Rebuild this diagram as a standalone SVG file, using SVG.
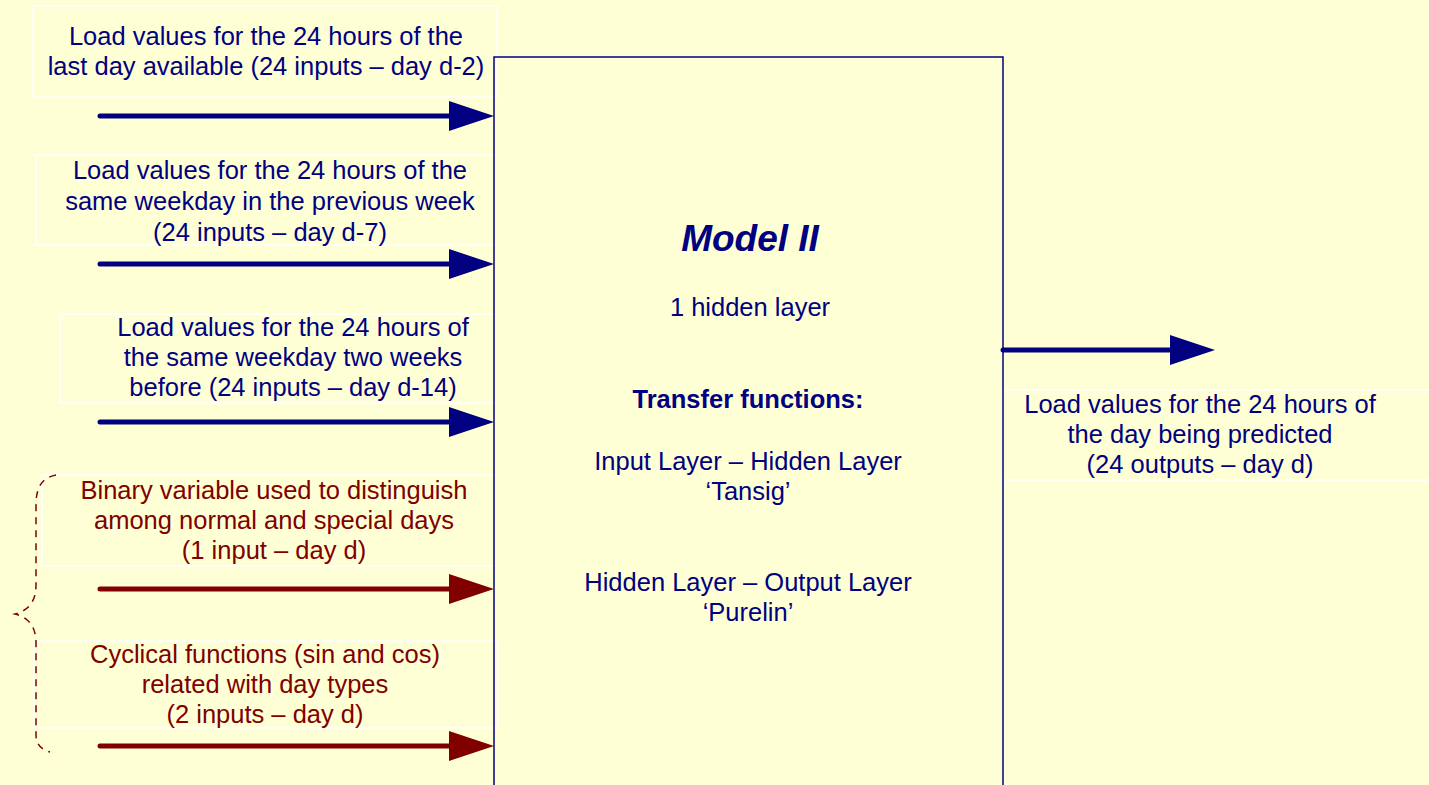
<svg xmlns="http://www.w3.org/2000/svg" width="1429" height="785" viewBox="0 0 1429 785">
  <defs>
    <marker id="headBlue" markerUnits="userSpaceOnUse" markerWidth="46" markerHeight="30" refX="21" refY="15" orient="auto">
      <path d="M0,0 L45,15 L0,30 Z" fill="#000080"/>
    </marker>
    <marker id="headRed" markerUnits="userSpaceOnUse" markerWidth="46" markerHeight="30" refX="21" refY="15" orient="auto">
      <path d="M0,0 L45,15 L0,30 Z" fill="#800000"/>
    </marker>
  </defs>
  <style>
    text { font-family: "Liberation Sans", Arial, sans-serif; font-size: 25.5px; text-anchor: middle; }
    .blue { fill: #000080; }
    .red { fill: #800000; }
    .frame { fill: none; stroke: #ffffff; stroke-width: 1.5; }
    .arrowBlue { stroke: #000080; stroke-width: 5; stroke-linecap: round; fill: none; marker-end: url(#headBlue); }
    .arrowRed { stroke: #800000; stroke-width: 5; stroke-linecap: round; fill: none; marker-end: url(#headRed); }
  </style>

  <rect x="0" y="0" width="1429" height="785" fill="#ffffd5"/>

  <g id="input-d2">
    <rect class="frame" x="33" y="6" width="464" height="91"/>
    <text class="blue" x="266" y="45">Load values for the 24 hours of the</text>
    <text class="blue" x="266" y="75">last day available (24 inputs – day d-2)</text>
  </g>

  <g id="input-d7">
    <rect class="frame" x="36" y="155" width="458" height="90"/>
    <text class="blue" x="270" y="179">Load values for the 24 hours of the</text>
    <text class="blue" x="270" y="210">same weekday in the previous week</text>
    <text class="blue" x="270" y="241">(24 inputs – day d-7)</text>
  </g>

  <g id="input-d14">
    <rect class="frame" x="60" y="314" width="434" height="89"/>
    <text class="blue" x="293" y="336">Load values for the 24 hours of</text>
    <text class="blue" x="293" y="366">the same weekday two weeks</text>
    <text class="blue" x="293" y="396">before (24 inputs – day d-14)</text>
  </g>

  <g id="input-binary">
    <rect class="frame" x="42" y="475" width="452" height="91"/>
    <text class="red" x="274" y="499">Binary variable used to distinguish</text>
    <text class="red" x="274" y="529">among normal and special days</text>
    <text class="red" x="274" y="559">(1 input – day d)</text>
  </g>

  <g id="input-cyclical">
    <rect class="frame" x="34" y="641" width="464" height="87"/>
    <text class="red" x="265" y="663">Cyclical functions (sin and cos)</text>
    <text class="red" x="265" y="693">related with day types</text>
    <text class="red" x="265" y="723">(2 inputs – day d)</text>
  </g>

  <g id="output">
    <rect class="frame" x="1003" y="390" width="440" height="90"/>
    <text class="blue" x="1200" y="413">Load values for the 24 hours of</text>
    <text class="blue" x="1200" y="443">the day being predicted</text>
    <text class="blue" x="1200" y="473">(24 outputs – day d)</text>
  </g>

  <!-- central model block -->
  <g id="model">
    <rect x="494" y="57" width="509" height="740" fill="none" stroke="#000080" stroke-width="1.5"/>
    <text class="blue" x="750" y="251" style="font-size:37px;font-weight:bold;font-style:italic">Model II</text>
    <text class="blue" x="750" y="316">1 hidden layer</text>
    <text class="blue" x="748" y="408" style="font-weight:bold">Transfer functions:</text>
    <text class="blue" x="748" y="470">Input Layer – Hidden Layer</text>
    <text class="blue" x="748" y="500">‘Tansig’</text>
    <text class="blue" x="748" y="591">Hidden Layer – Output Layer</text>
    <text class="blue" x="748" y="621">‘Purelin’</text>
  </g>

  <!-- brace grouping the calendar inputs -->
  <g id="brace">
    <path d="M56,475 C40,478 36,490 36,505 L36,585 C36,600 30,610 15,614 C30,618 36,628 36,643 L36,735 C36,745 42,750 50,752" fill="none" stroke="#800000" stroke-width="1.5" stroke-dasharray="7,6"/>
  </g>

  <g id="connectors">
    <line class="arrowBlue" x1="100" y1="116" x2="470" y2="116"/>
    <line class="arrowBlue" x1="100" y1="264" x2="470" y2="264"/>
    <line class="arrowBlue" x1="100" y1="422" x2="470" y2="422"/>
    <line class="arrowRed" x1="100" y1="589" x2="470" y2="589"/>
    <line class="arrowRed" x1="100" y1="746" x2="470" y2="746"/>
    <line class="arrowBlue" x1="1003" y1="350" x2="1191" y2="350"/>
  </g>
</svg>
